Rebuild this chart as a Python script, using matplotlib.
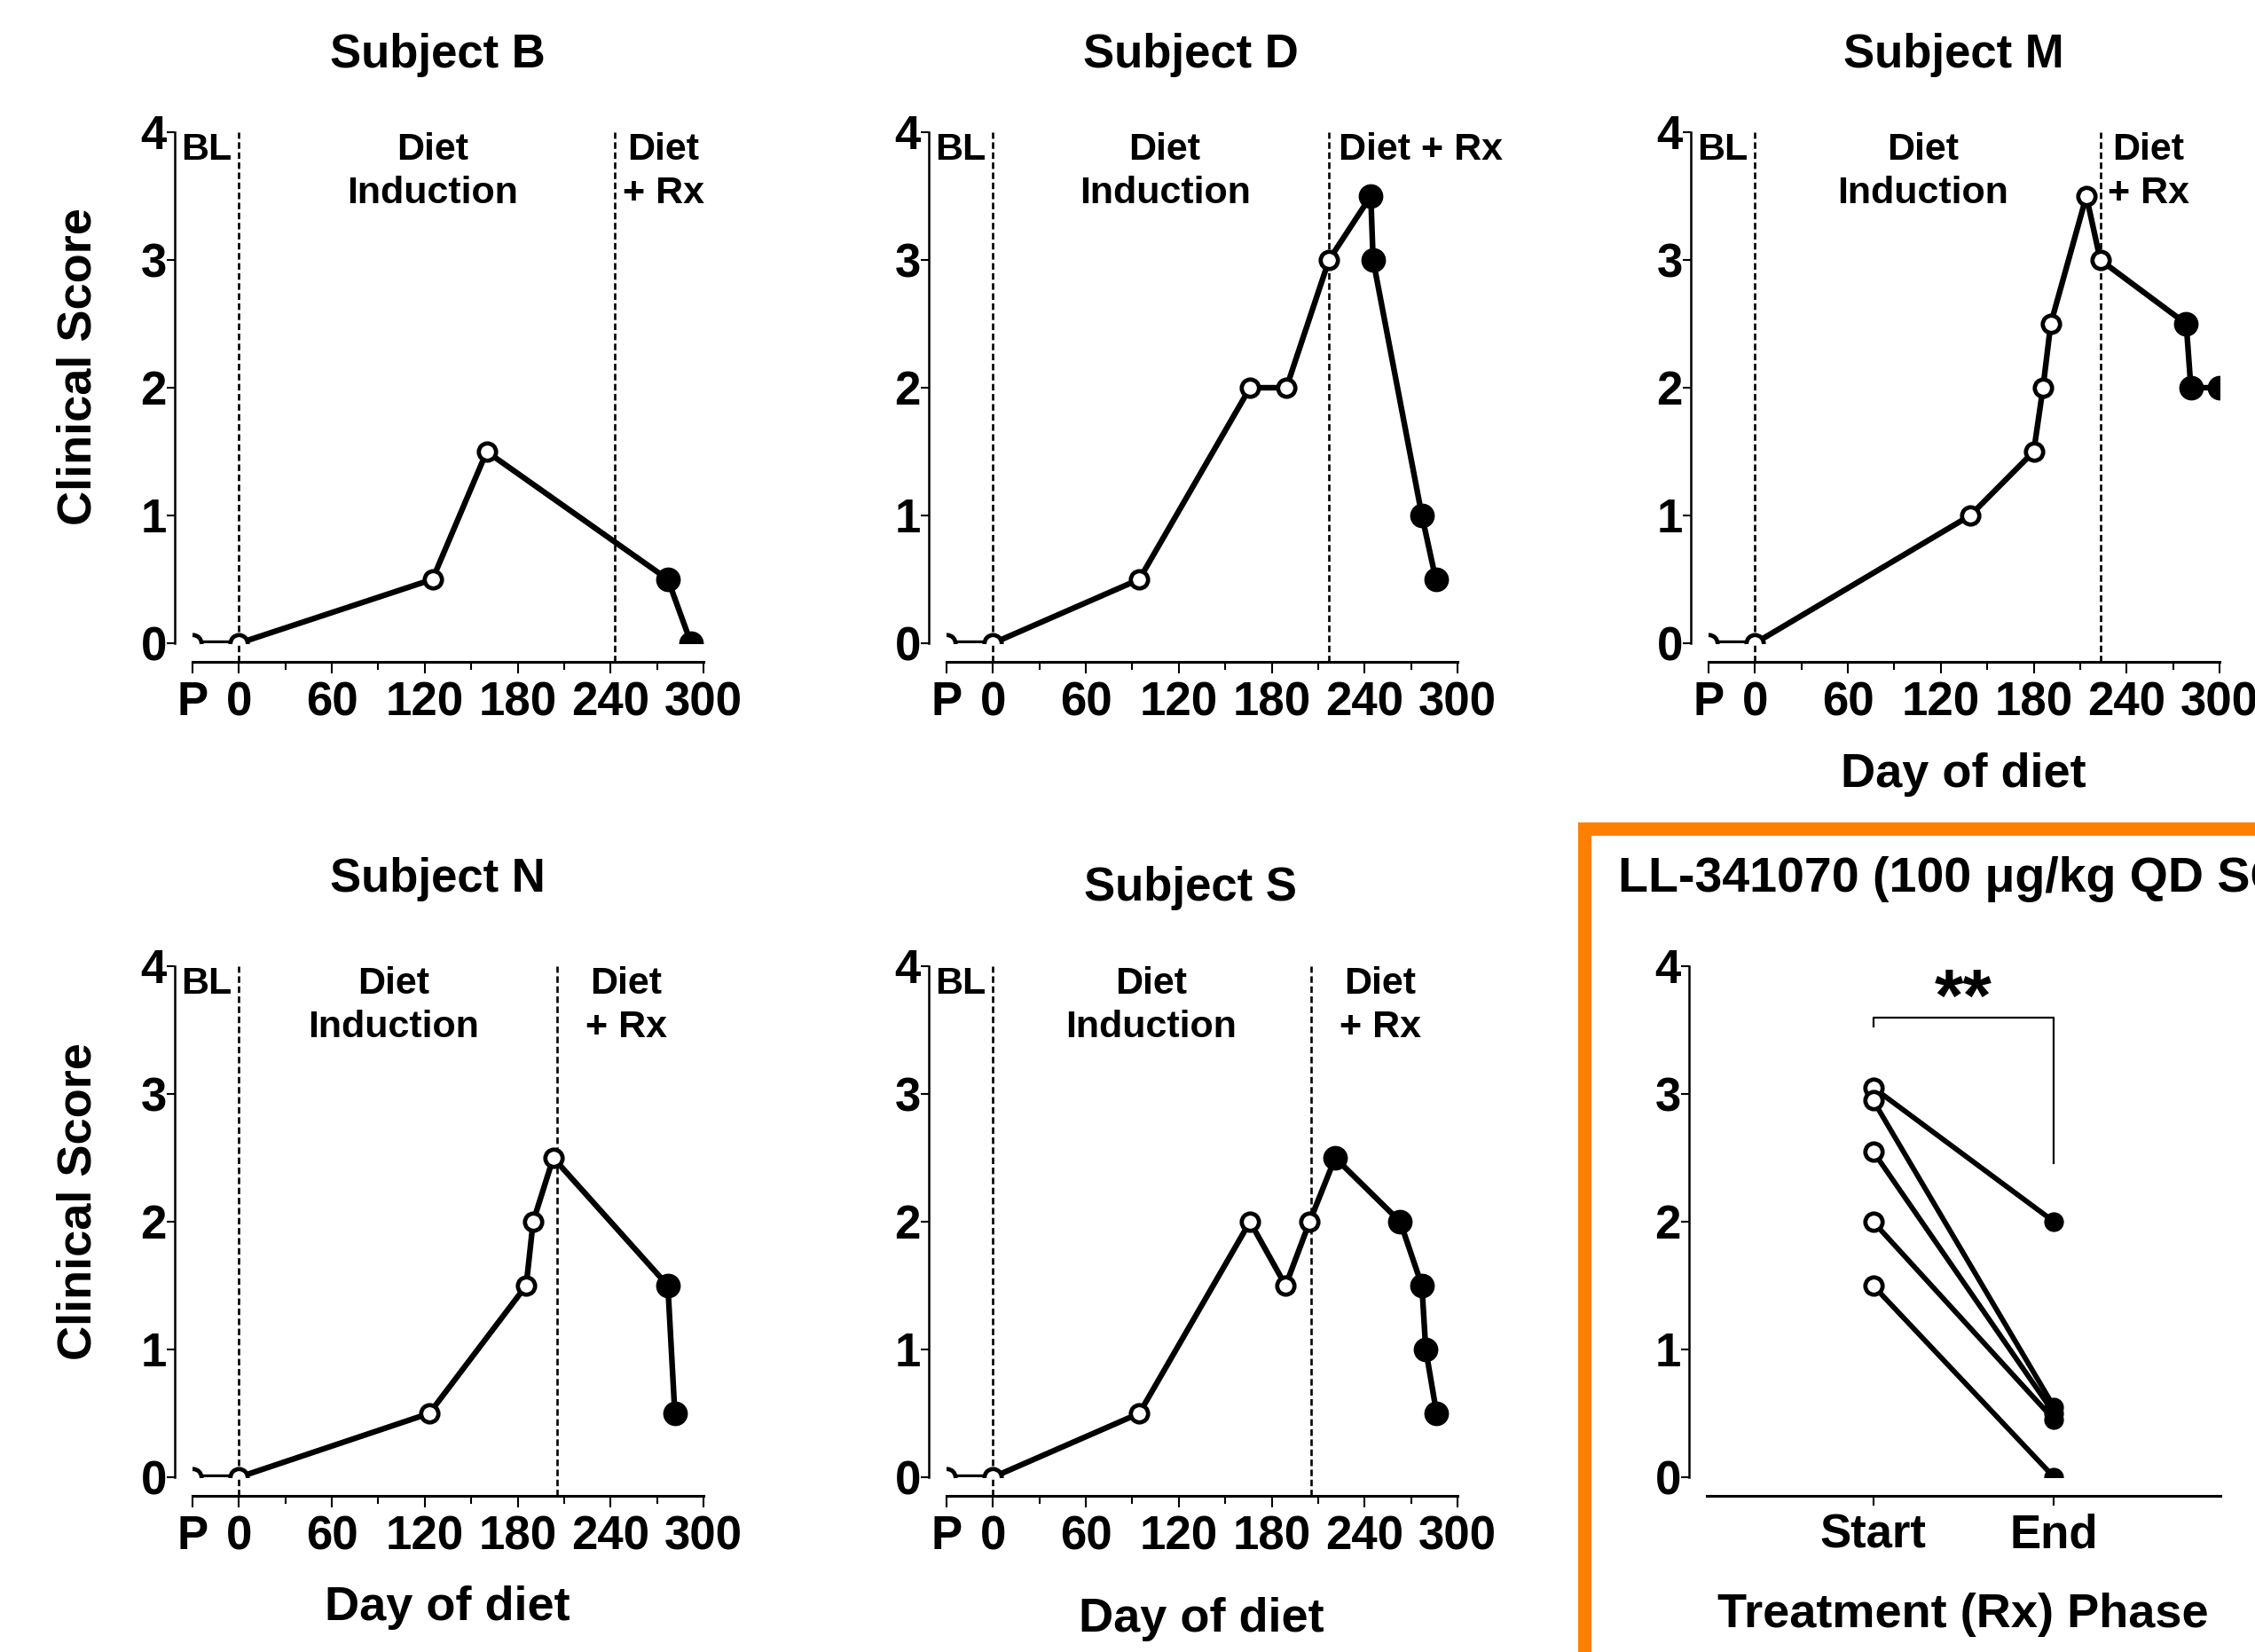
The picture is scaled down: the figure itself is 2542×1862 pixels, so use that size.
import matplotlib
matplotlib.use('Agg')
import matplotlib.pyplot as plt
from matplotlib import font_manager
from matplotlib.patches import Rectangle

# Размер картинки в пикселях
W, H = 2542, 1862

# Шрифты: узкий, если есть
installed = {f.name for f in font_manager.fontManager.ttflist}
if 'Liberation Sans Narrow' in installed:
    NARROW = 'Liberation Sans Narrow'
    tick_fs, title_fs, note_fs = 46, 46, 37
else:
    NARROW = 'Liberation Sans'
    tick_fs, title_fs, note_fs = 38, 38, 31
WIDE = 'Liberation Sans'
label_fs = 39

plt.rcParams['font.family'] = [NARROW, 'DejaVu Sans']
plt.rcParams['font.weight'] = 'bold'

# Данные по субъектам: день диеты, балл, число точек до лечения, день начала Rx
days_B = [-30, 0, 125, 160, 277, 292]
score_B = [0, 0, 0.5, 1.5, 0.5, 0]
npre_B, rx_B = 4, 242.5

days_D = [-30, 0, 94.5, 166, 189.5, 217, 244, 245.5, 277, 286]
score_D = [0, 0, 0.5, 2, 2, 3, 3.5, 3, 1, 0.5]
npre_D, rx_D = 6, 217

days_M = [-30, 0, 139, 180, 186, 191, 214, 223, 278.5, 281.5, 300]
score_M = [0, 0, 1, 1.5, 2, 2.5, 3.5, 3, 2.5, 2, 2]
npre_M, rx_M = 8, 223

days_N = [-30, 0, 123, 185.5, 190, 203, 277, 281.5]
score_N = [0, 0, 0.5, 1.5, 2, 2.5, 1.5, 0.5]
npre_N, rx_N = 6, 205.5

days_S = [-30, 0, 94.5, 166, 189, 204.5, 221, 263, 277, 279.5, 286.5]
score_S = [0, 0, 0.5, 2, 1.5, 2, 2.5, 2, 1.5, 1, 0.5]
npre_S, rx_S = 6, 205.5

# Сводная панель: начало и конец фазы лечения
rx_start = [3.05, 2.95, 2.55, 2.0, 1.5]
rx_end = [2.0, 0.55, 0.5, 0.45, 0.0]

xticks_major = [-30, 0, 60, 120, 180, 240, 300]
xtick_labels = ['P', '0', '60', '120', '180', '240', '300']
xticks_minor = [30, 90, 150, 210, 270]
yticks = [0, 1, 2, 3, 4]


def fx(px):
    return px / W


def fy(py):
    return 1 - py / H


def style_axes(ax):
    for s in ('top', 'right'):
        ax.spines[s].set_visible(False)
    ax.spines['left'].set_linewidth(1.8)
    ax.spines['bottom'].set_linewidth(2.2)
    ax.spines['left'].set_position(('outward', 14.4))
    ax.spines['bottom'].set_position(('outward', 15))
    ax.spines['left'].set_bounds(0, 4)
    ax.set_yticks(yticks)
    ax.tick_params(axis='y', length=6.5, width=1.5, pad=0, labelsize=tick_fs)
    ax.set_facecolor('none')


def day_panel(ax, days, score, npre, rx_day, ind_x, rx_x, one_line=False):
    ax.set_xlim(-30, 300)
    ax.set_ylim(0, 4)
    ax.plot(days, score, color='k', lw=4.6, zorder=3)
    ax.plot(days[:npre], score[:npre], 'o', ms=14, mfc='white', mec='k',
            mew=3.4, zorder=4)
    ax.plot(days[npre:], score[npre:], 'o', ms=19, mfc='k', mec='k', zorder=4)
    for x in (0, rx_day):
        ax.plot([x, x], [-0.146, 4], color='k', lw=1.9, ls=(0, (2.8, 1.5)),
                clip_on=False, zorder=2)
    style_axes(ax)
    ax.spines['bottom'].set_bounds(-30, 300)
    ax.set_xticks(xticks_major)
    ax.set_xticklabels(xtick_labels)
    ax.set_xticks(xticks_minor, minor=True)
    ax.tick_params(axis='x', which='major', length=9.5, width=1.5, pad=6,
                   labelsize=tick_fs)
    ax.tick_params(axis='x', which='minor', length=6.5, width=1.5)
    kw = dict(ha='center', va='center', fontsize=note_fs, clip_on=False)
    ax.text(-20.7, 3.86, 'BL', **kw)
    ax.text(ind_x, 3.86, 'Diet', **kw)
    ax.text(ind_x, 3.52, 'Induction', **kw)
    if one_line:
        ax.text(rx_x, 3.86, 'Diet + Rx', **kw)
    else:
        ax.text(rx_x, 3.86, 'Diet', **kw)
        ax.text(rx_x, 3.52, '+ Rx', **kw)


fig = plt.figure(figsize=(W / 100, H / 100), dpi=100)

col_x = [217, 1067, 1926]
row_y = [725, 1665]
pw, ph = 576, 576


def panel_axes(col, row):
    x0 = col_x[col]
    y0 = row_y[row]
    return fig.add_axes([fx(x0), fy(y0), pw / W, ph / H])


ax = panel_axes(0, 0)
day_panel(ax, days_B, score_B, npre_B, rx_B, 125, 274)
ax = panel_axes(1, 0)
day_panel(ax, days_D, score_D, npre_D, rx_D, 111, 276.5, one_line=True)
ax = panel_axes(2, 0)
day_panel(ax, days_M, score_M, npre_M, rx_M, 108.5, 254)
ax = panel_axes(0, 1)
day_panel(ax, days_N, score_N, npre_N, rx_N, 100, 250)
ax = panel_axes(1, 1)
day_panel(ax, days_S, score_S, npre_S, rx_S, 102, 250)

# Оранжевая рамка вокруг сводной панели
frame = Rectangle((fx(1785.5), fy(1866.5)), (2700 - 1785.5) / W,
                  (1866.5 - 934) / H, transform=fig.transFigure, fill=False,
                  ec='#FF8000', lw=10.8, clip_on=False)
fig.add_artist(frame)

# Сводная панель Start / End
axr = fig.add_axes([fx(1924), fy(1665), 579 / W, ph / H])
axr.set_xlim(0.08, 2.92)
axr.set_ylim(0, 4)
for s, e in zip(rx_start, rx_end):
    axr.plot([1, 2], [s, e], color='k', lw=4.2, zorder=3)
axr.plot([1] * len(rx_start), rx_start, 'o', ms=14, mfc='white', mec='k',
         mew=3.4, zorder=4)
axr.plot([2] * len(rx_end), rx_end, 'o', ms=15, mfc='k', mec='k', zorder=4)
style_axes(axr)
axr.spines['bottom'].set_bounds(0.08, 2.92)
axr.set_xticks([1, 2])
axr.set_xticklabels(['Start', 'End'], fontfamily=WIDE, fontsize=38)
axr.tick_params(axis='x', length=8, width=1.5, pad=6)
axr.plot([1, 1, 2, 2], [3.53, 3.6, 3.6, 2.46], color='k', lw=1.6,
         clip_on=False)
axr.text(1.5, 3.72, '**', ha='center', va='center', fontsize=60,
         fontfamily=WIDE, clip_on=False)

# Заголовки и подписи осей
tkw = dict(ha='center', va='center', fontsize=title_fs)
fig.text(fx(493), fy(62), 'Subject B', **tkw)
fig.text(fx(1342), fy(62), 'Subject D', **tkw)
fig.text(fx(2202), fy(62), 'Subject M', **tkw)
fig.text(fx(493), fy(991), 'Subject N', **tkw)
fig.text(fx(1342), fy(1001), 'Subject S', **tkw)
fig.text(fx(1824), fy(991), 'LL-341070 (100 \u03bcg/kg QD SC)', ha='left',
         va='center', fontsize=40, fontfamily=WIDE)

lkw = dict(ha='center', va='center', fontsize=label_fs, fontfamily=WIDE)
fig.text(fx(89), fy(413), 'Clinical Score', rotation=90, **lkw)
fig.text(fx(89), fy(1354), 'Clinical Score', rotation=90, **lkw)
fig.text(fx(2213), fy(873), 'Day of diet', **lkw)
fig.text(fx(504), fy(1812), 'Day of diet', **lkw)
fig.text(fx(1354), fy(1825), 'Day of diet', **lkw)
fig.text(fx(2213), fy(1820), 'Treatment (Rx) Phase', **lkw)

fig.savefig('out.png', dpi=100)
